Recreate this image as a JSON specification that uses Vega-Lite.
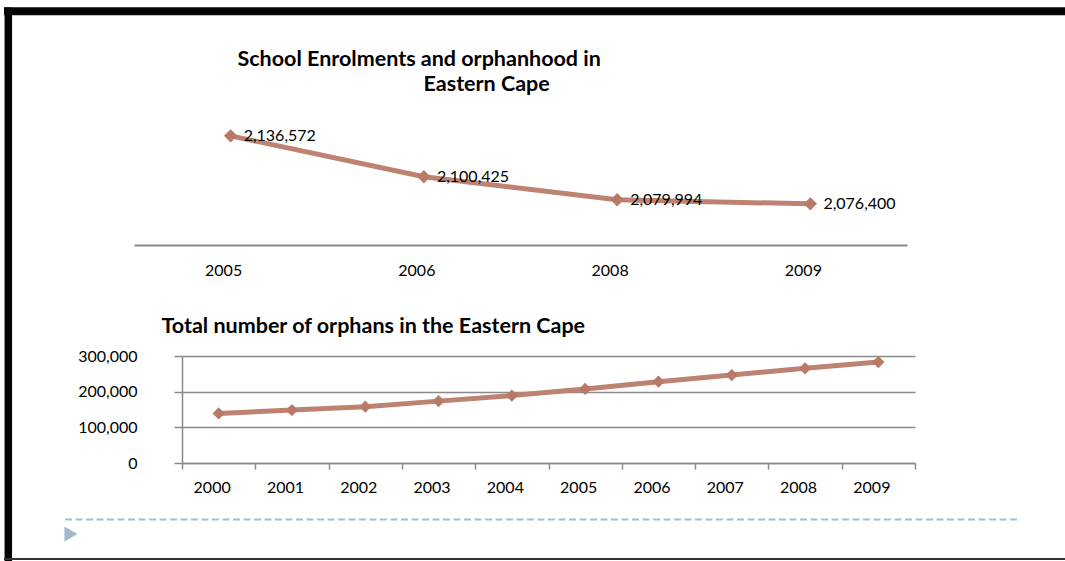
{
  "$schema": "https://vega.github.io/schema/vega-lite/v6.json",
  "width": 1065,
  "height": 561,
  "autosize": {"type": "none"},
  "padding": 0,
  "background": "white",
  "config": {
    "font": "Lato",
    "view": {"stroke": null},
    "axis": {"labelFont": "Lato", "titleFont": "Lato", "labelColor": "#000000", "titleColor": "#000000"}
  },
  "datasets": {
    "enrolments": [
      {"year": "2005", "learners": 2136572},
      {"year": "2006", "learners": 2100425},
      {"year": "2008", "learners": 2079994},
      {"year": "2009", "learners": 2076400}
    ],
    "orphans": [
      {"year": "2000", "orphans": 139000},
      {"year": "2001", "orphans": 148500},
      {"year": "2002", "orphans": 158000},
      {"year": "2003", "orphans": 173500},
      {"year": "2004", "orphans": 189000},
      {"year": "2005", "orphans": 207500},
      {"year": "2006", "orphans": 228000},
      {"year": "2007", "orphans": 246500},
      {"year": "2008", "orphans": 265500},
      {"year": "2009", "orphans": 283000}
    ]
  },
  "layer": [
    {
      "data": {"values": [{}]},
      "layer": [
        {"mark": {"type": "rule", "color": "#050505", "strokeWidth": 7.5}, "encoding": {"x": {"value": 8.3}, "y": {"value": 7.5}, "y2": {"value": 561}}},
        {"mark": {"type": "rule", "color": "#050505", "strokeWidth": 8}, "encoding": {"x": {"value": 4}, "x2": {"value": 1065}, "y": {"value": 11.3}}},
        {"mark": {"type": "rule", "color": "#333333", "strokeWidth": 2}, "encoding": {"x": {"value": 4}, "x2": {"value": 1065}, "y": {"value": 559}}},
        {"mark": {"type": "rule", "color": "#a8bccf", "strokeWidth": 2, "strokeDash": [7, 3.5]}, "encoding": {"x": {"value": 65}, "x2": {"value": 1020}, "y": {"value": 519.5}}},
        {"mark": {"type": "point", "shape": "triangle-right", "filled": true, "opacity": 1, "color": "#a3b9ce", "size": 230}, "encoding": {"x": {"value": 71}, "y": {"value": 534}}}
      ]
    },
    {
      "data": {"name": "enrolments"},
      "encoding": {
        "x": {
          "field": "year",
          "type": "ordinal",
          "scale": {"type": "band", "domain": ["2005", "2006", "2008", "2009"], "range": [134, 907], "paddingInner": 0, "paddingOuter": 0},
          "axis": {
            "orient": "bottom",
            "offset": -316,
            "domainColor": "#8a8a8a",
            "domainWidth": 2,
            "ticks": false,
            "tickSize": 0,
            "grid": false,
            "labelPadding": 17,
            "labelFontSize": 16,
            "labelAngle": 0,
            "labelOffset": -7,
            "title": "School Enrolments and orphanhood in",
            "titleFontSize": 21.5,
            "titleFontWeight": "bold",
            "titleAngle": 0,
            "titleX": 237,
            "titleY": -186,
            "titleAlign": "left",
            "titleBaseline": "middle"
          }
        },
        "y": {
          "field": "learners",
          "type": "quantitative",
          "scale": {"domain": [2040000, 2140000], "range": [245, 132], "nice": false, "zero": false},
          "axis": {
            "orient": "left",
            "domain": false,
            "labels": false,
            "ticks": false,
            "grid": false,
            "title": "Eastern Cape",
            "titleFontSize": 21.5,
            "titleFontWeight": "bold",
            "titleAngle": 0,
            "titleX": 423,
            "titleY": 84,
            "titleAlign": "left",
            "titleBaseline": "middle"
          }
        }
      },
      "layer": [
        {"mark": {"type": "line", "color": "#bd8271", "strokeWidth": 5}},
        {"mark": {"type": "point", "shape": "diamond", "filled": true, "opacity": 1, "color": "#b87a67", "size": 180}},
        {
          "mark": {"type": "text", "align": "left", "baseline": "middle", "dx": 13, "fontSize": 16, "color": "#000000"},
          "encoding": {"text": {"field": "learners", "type": "quantitative", "format": ",d"}}
        }
      ]
    },
    {
      "data": {"name": "orphans"},
      "encoding": {
        "x": {
          "field": "year",
          "type": "ordinal",
          "scale": {"type": "band", "range": [182, 915], "paddingInner": 0, "paddingOuter": 0},
          "axis": {
            "orient": "bottom",
            "offset": -98,
            "domainColor": "#8a8a8a",
            "domainWidth": 1.5,
            "tickColor": "#8a8a8a",
            "tickWidth": 1.5,
            "tickSize": 6,
            "tickBand": "extent",
            "grid": false,
            "labelPadding": 10,
            "labelFontSize": 16,
            "labelAngle": 0,
            "labelOffset": -7,
            "title": null
          }
        },
        "y": {
          "field": "orphans",
          "type": "quantitative",
          "scale": {"domain": [0, 300000], "range": [463, 356], "nice": false},
          "axis": {
            "orient": "left",
            "offset": -182,
            "values": [0, 100000, 200000, 300000],
            "format": ",d",
            "domainColor": "#8a8a8a",
            "domainWidth": 1.5,
            "tickColor": "#8a8a8a",
            "tickWidth": 1.5,
            "tickSize": 8,
            "grid": true,
            "gridColor": "#8a8a8a",
            "gridWidth": 1.5,
            "labelPadding": 37,
            "labelFontSize": 16,
            "title": "Total number of orphans in the Eastern Cape",
            "titleFontSize": 21.5,
            "titleFontWeight": "bold",
            "titleAngle": 0,
            "titleX": -21,
            "titleY": 326,
            "titleAlign": "left",
            "titleBaseline": "middle"
          }
        }
      },
      "layer": [
        {"mark": {"type": "line", "color": "#bd8271", "strokeWidth": 5}},
        {"mark": {"type": "point", "shape": "diamond", "filled": true, "opacity": 1, "color": "#b87a67", "size": 150}}
      ]
    }
  ],
  "resolve": {
    "scale": {"x": "independent", "y": "independent"},
    "axis": {"x": "independent", "y": "independent"}
  }
}
